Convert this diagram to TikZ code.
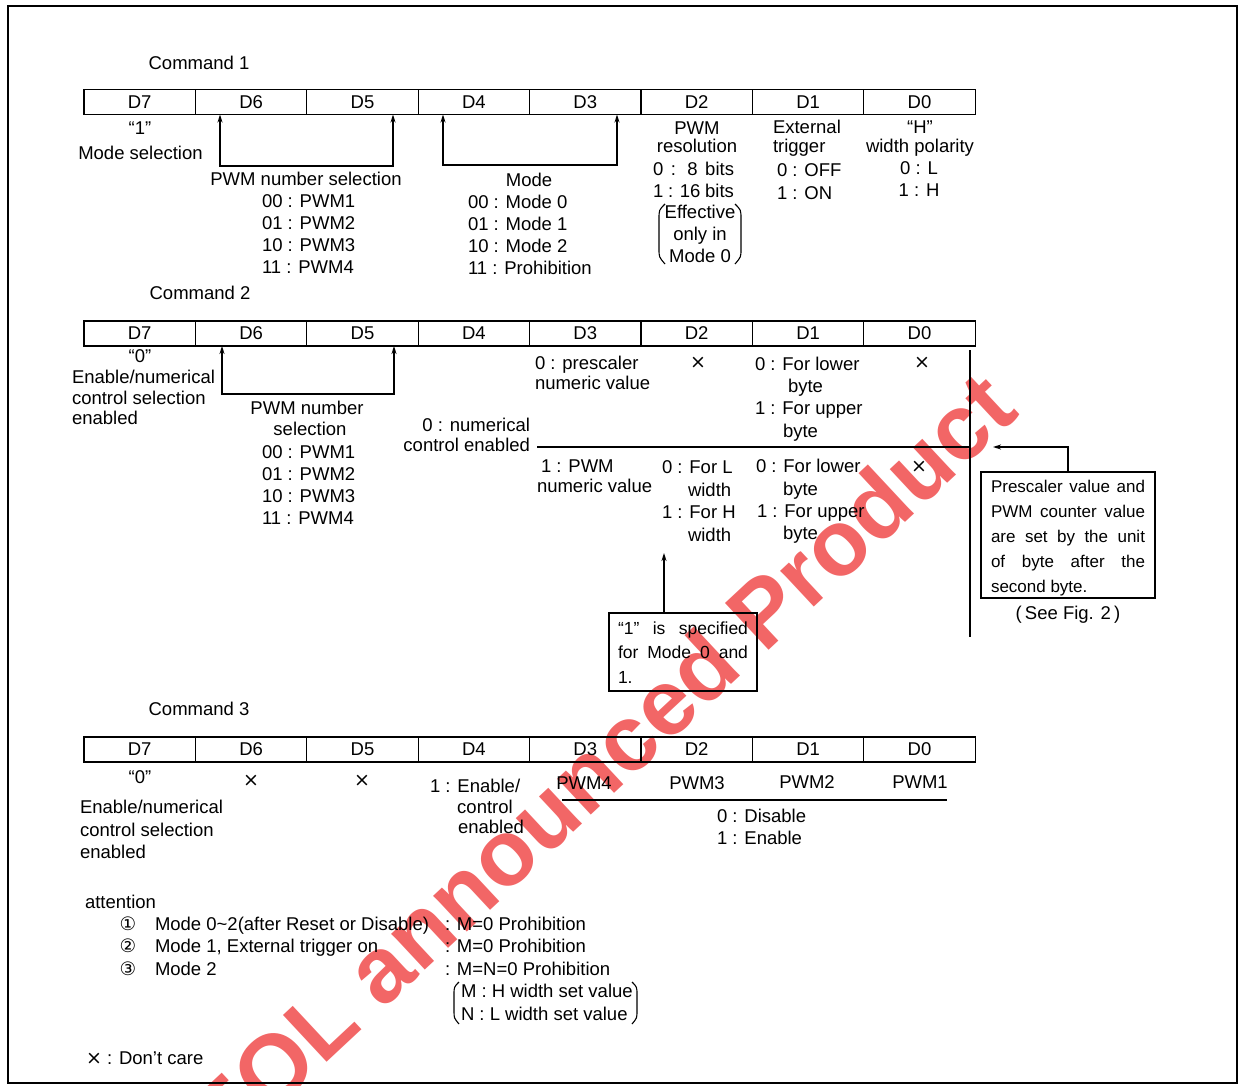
\documentclass[tikz,border=0pt]{standalone}
\usepackage{fontspec}
\setmainfont{Liberation Sans}
\newfontfamily\dvs{DejaVu Sans}
\usetikzlibrary{arrows.meta}
\definecolor{wmred}{RGB}{242,102,102}
\newcommand{\fsz}{\fontsize{18.5}{22}\selectfont}
\newcommand{\xx}{{\dvs\fontsize{19}{22}\selectfont ×}}
\begin{document}
\begin{tikzpicture}[x=1pt,y=-1pt,
 txt/.style={inner sep=0pt, outer sep=0pt, font=\fsz},
 cell/.style={draw, line width=1.3pt, minimum width=111.4pt, minimum height=25pt, inner sep=0pt, outer sep=0pt, font=\fsz},
 ln/.style={line width=1.3pt},
 par/.style={line width=1.1pt},
 arr/.style={line width=1.3pt, -{Stealth[length=8pt,width=5pt]}},
 darr/.style={line width=1.3pt, {Stealth[length=8pt,width=5pt]}-{Stealth[length=8pt,width=5pt]}},
 bx/.style={draw, line width=1.3pt, inner sep=0pt, outer sep=0pt}
]
\useasboundingbox (0,0) rectangle (1240,1086);
% watermark
\node[rotate=43, text=wmred, inner sep=0pt, font=\fontsize{93}{93}\bfseries\selectfont] (wm) at (600,762) {EOL announced Product};
% frame
\draw[line width=2pt] (8,6) rectangle (1237,1083);

% ---------------- Command 1
\node[txt,anchor=base] (t1) at (199,69.5) {Command 1};
\foreach \i/\n in {0/7,1/6,2/5,3/4,4/3,5/2,6/1,7/0}
  \node[cell] (c1d\n) at ({84+111.4*(\i+0.5)},102) {D\n};
\node[txt,anchor=base] (c1q) at (140,134.5) {“1”};
\node[txt,anchor=base] (c1ms) at (140.5,159.5) {Mode selection};
\coordinate (c1bl) at (220,114.5);
\coordinate (c1br) at (393,114.5);
\draw[darr] (c1bl) -- (220,166) -- (393,166) -- (c1br);
\node[txt,anchor=base] (c1pn) at (306,185.5) {PWM number selection};
\node[txt,anchor=base west] (c1p1) at (262,207.5) {00 : PWM1};
\node[txt,anchor=base west] (c1p2) at (262,229.5) {01 : PWM2};
\node[txt,anchor=base west] (c1p3) at (262,251.5) {10 : PWM3};
\node[txt,anchor=base west] (c1p4) at (262,273.5) {11 : PWM4};
\coordinate (c1ml) at (443,114.5);
\coordinate (c1mr) at (617,114.5);
\draw[darr] (c1ml) -- (443,165) -- (617,165) -- (c1mr);
\node[txt,anchor=base] (c1mo) at (529,186.5) {Mode};
\node[txt,anchor=base west] (c1m0) at (468,208.5) {00 : Mode 0};
\node[txt,anchor=base west] (c1m1) at (468,230.5) {01 : Mode 1};
\node[txt,anchor=base west] (c1m2) at (468,252.5) {10 : Mode 2};
\node[txt,anchor=base west] (c1m3) at (468,274.5) {11 : Prohibition};
% D2
\node[txt,anchor=base] (c1r1) at (697,134.5) {PWM};
\node[txt,anchor=base] (c1r2) at (697,152.5) {resolution};
\node[txt,anchor=base west] (c1r3) at (653,175.5) {\makebox[81pt][s]{0 : 8 bits}};
\node[txt,anchor=base west] (c1r4) at (653,197.5) {\makebox[81pt][s]{1 : 16 bits}};
\node[txt,anchor=base] (c1r5) at (700,218.5) {Effective};
\node[txt,anchor=base] (c1r6) at (700,240.5) {only in};
\node[txt,anchor=base] (c1r7) at (700,262.5) {Mode 0};
\draw[par] (665,204) .. controls (659,210) .. (659,219) -- (659,249) .. controls (659,257) .. (665,264);
\draw[par] (735,204) .. controls (741,210) .. (741,219) -- (741,249) .. controls (741,257) .. (735,264);
% D1
\node[txt,anchor=base west] (c1e1) at (773,133.5) {External};
\node[txt,anchor=base west] (c1e2) at (773,152.5) {trigger};
\node[txt,anchor=base west] (c1e3) at (777,176.5) {0 : OFF};
\node[txt,anchor=base west] (c1e4) at (777,199.5) {1 : ON};
% D0
\node[txt,anchor=base] (c1h1) at (920,133.5) {“H”};
\node[txt,anchor=base] (c1h2) at (920,152.5) {width polarity};
\node[txt,anchor=base] (c1h3) at (919,174.5) {0 : L};
\node[txt,anchor=base] (c1h4) at (919,196.5) {1 : H};

% ---------------- Command 2
\node[txt,anchor=base] (t2) at (200,299.5) {Command 2};
\foreach \i/\n in {0/7,1/6,2/5,3/4,4/3,5/2,6/1,7/0}
  \node[cell] (c2d\n) at ({84+111.4*(\i+0.5)},333.5) {D\n};
\node[txt,anchor=base] (c2q) at (140,362.5) {“0”};
\node[txt,anchor=base west] (c2e1) at (72,383.5) {Enable/numerical};
\node[txt,anchor=base west] (c2e2) at (72,404.5) {control selection};
\node[txt,anchor=base west] (c2e3) at (72,424.5) {enabled};
\coordinate (c2bl) at (222,346);
\coordinate (c2br) at (394,346);
\draw[darr] (c2bl) -- (222,394) -- (394,394) -- (c2br);
\node[txt,anchor=base] (c2pn1) at (307,414.5) {PWM number};
\node[txt,anchor=base] (c2pn2) at (310,435.5) {selection};
\node[txt,anchor=base west] (c2p1) at (262,458.5) {00 : PWM1};
\node[txt,anchor=base west] (c2p2) at (262,480.5) {01 : PWM2};
\node[txt,anchor=base west] (c2p3) at (262,502.5) {10 : PWM3};
\node[txt,anchor=base west] (c2p4) at (262,524.5) {11 : PWM4};
\node[txt,anchor=base east] (c2n1) at (530,431) {0 : numerical};
\node[txt,anchor=base east] (c2n2) at (530,451) {control enabled};
\coordinate (c2ls) at (537,447);
\coordinate (c2le) at (970,447);
\draw[ln] (c2ls) -- (c2le);
\coordinate (c2vt) at (970,350);
\coordinate (c2vb) at (970,637);
\draw[ln] (c2vt) -- (c2vb);
% upper half
\node[txt,anchor=base west] (c2a1) at (535,369.5) {0 : prescaler};
\node[txt,anchor=base west] (c2a2) at (535,389.5) {numeric value};
\node[txt,anchor=base] (c2x1) at (698,368) {\xx};
\node[txt,anchor=base west] (c2b1) at (755,370.5) {0 : For lower};
\node[txt,anchor=base west] (c2b2) at (788,392.5) {byte};
\node[txt,anchor=base west] (c2b3) at (755,414.5) {1 : For upper};
\node[txt,anchor=base west] (c2b4) at (783,437) {byte};
\node[txt,anchor=base] (c2x2) at (922,368) {\xx};
% lower half
\node[txt,anchor=base west] (c2c1) at (541,472.5) {1 : PWM};
\node[txt,anchor=base west] (c2c2) at (537,492.5) {numeric value};
\node[txt,anchor=base west] (c2w1) at (662,473.5) {0 : For L};
\node[txt,anchor=base west] (c2w2) at (688,496.5) {width};
\node[txt,anchor=base west] (c2w3) at (662,518.5) {1 : For H};
\node[txt,anchor=base west] (c2w4) at (688,541.5) {width};
\node[txt,anchor=base west] (c2u1) at (756,472.5) {0 : For lower};
\node[txt,anchor=base west] (c2u2) at (783,495.5) {byte};
\node[txt,anchor=base west] (c2u3) at (757,517.5) {1 : For upper};
\node[txt,anchor=base west] (c2u4) at (783,539.5) {byte};
\node[txt,anchor=base] (c2x3) at (919,472) {\xx};
% prescaler box
\node[bx, minimum width=174pt, minimum height=126pt] (pbox) at (1068,535) {};
\node[txt,anchor=base west,font=\fontsize{17}{22}\selectfont] (pb1) at (991,492.5) {\makebox[154pt][s]{Prescaler value and}};
\node[txt,anchor=base west,font=\fontsize{17}{22}\selectfont] (pb2) at (991,517.5) {\makebox[154pt][s]{PWM counter value}};
\node[txt,anchor=base west,font=\fontsize{17}{22}\selectfont] (pb3) at (991,542.5) {\makebox[154pt][s]{are set by the unit}};
\node[txt,anchor=base west,font=\fontsize{17}{22}\selectfont] (pb4) at (991,567.5) {\makebox[154pt][s]{of byte after the}};
\node[txt,anchor=base west,font=\fontsize{17}{22}\selectfont] (pb5) at (991,592.5) {second byte.};
\node[txt,anchor=base] (pbs) at (1068,619.5) {(\,See Fig. 2\,)};
\coordinate (tipB) at (993,447);
\draw[arr] (pbox.north) |- (tipB);
% "1" box
\node[bx, minimum width=148pt, minimum height=78pt] (onebox) at (683,652) {};
\node[txt,anchor=base west,font=\fontsize{17.5}{22}\selectfont] (ob1) at (618,634.5) {\makebox[130pt][s]{“1” is specified}};
\node[txt,anchor=base west,font=\fontsize{17.5}{22}\selectfont] (ob2) at (618,658.5) {\makebox[130pt][s]{for Mode 0 and}};
\node[txt,anchor=base west,font=\fontsize{17.5}{22}\selectfont] (ob3) at (618,683.5) {1.};
\coordinate (tipA) at (664,553);
\draw[arr] (onebox.north -| tipA) -- (tipA);

% ---------------- Command 3
\node[txt,anchor=base] (t3) at (199,715.5) {Command 3};
\foreach \i/\n in {0/7,1/6,2/5,3/4,4/3,5/2,6/1,7/0}
  \node[cell] (c3d\n) at ({84+111.4*(\i+0.5)},749.5) {D\n};
\node[txt,anchor=base] (c3q) at (140,783.5) {“0”};
\node[txt,anchor=base] (c3x6) at (251,786) {\xx};
\node[txt,anchor=base] (c3x5) at (362,786) {\xx};
\node[txt,anchor=base west] (c3e1) at (80,813.5) {Enable/numerical};
\node[txt,anchor=base west] (c3e2) at (80,836.5) {control selection};
\node[txt,anchor=base west] (c3e3) at (80,858.5) {enabled};
\node[txt,anchor=base west] (c3f1) at (430,792.5) {1 : Enable/};
\node[txt,anchor=base] (c3f2) at (485,813.5) {control};
\node[txt,anchor=base] (c3f3) at (491,833.5) {enabled};
\node[txt,anchor=base] (c3p4) at (584,789.5) {PWM4};
\node[txt,anchor=base] (c3p3) at (697,789.5) {PWM3};
\node[txt,anchor=base] (c3p2) at (807,788.5) {PWM2};
\node[txt,anchor=base] (c3p1) at (920,788.5) {PWM1};
\coordinate (c3ls) at (562,800);
\coordinate (c3le) at (947,800);
\draw[ln] (c3ls) -- (c3le);
\node[txt,anchor=base west] (c3g1) at (717,822.5) {0 : Disable};
\node[txt,anchor=base west] (c3g2) at (717,844.5) {1 : Enable};

% ---------------- attention
\node[txt,anchor=base west] (att) at (85,908.5) {attention};
\node[txt,anchor=base, font=\dvs\fsz] (n1) at (128,930.5) {①};
\node[txt,anchor=base, font=\dvs\fsz] (n2) at (128,952.5) {②};
\node[txt,anchor=base, font=\dvs\fsz] (n3) at (128,975.5) {③};
\node[txt,anchor=base west] (a1) at (155,930.5) {Mode 0\textasciitilde 2(after Reset or Disable)};
\node[txt,anchor=base west] (a2) at (155,952.5) {Mode 1, External trigger on};
\node[txt,anchor=base west] (a3) at (155,975.5) {Mode 2};
\node[txt,anchor=base west] (b1) at (445,930.5) {: M=0 Prohibition};
\node[txt,anchor=base west] (b2) at (445,952.5) {: M=0 Prohibition};
\node[txt,anchor=base west] (b3) at (445,975.5) {: M=N=0 Prohibition};
\node[txt,anchor=base west] (b4) at (461,997.5) {M : H width set value};
\node[txt,anchor=base west] (b5) at (461,1020.5) {N : L width set value};
\draw[par] (459,982) .. controls (454,987) .. (454,995) -- (454,1011) .. controls (454,1018) .. (459,1024);
\draw[par] (632,982) .. controls (637,987) .. (637,995) -- (637,1011) .. controls (637,1018) .. (632,1024);
\node[txt,anchor=base west] (dc) at (86,1064.5) {\xx\ : Don't care};
\end{tikzpicture}
\end{document}
